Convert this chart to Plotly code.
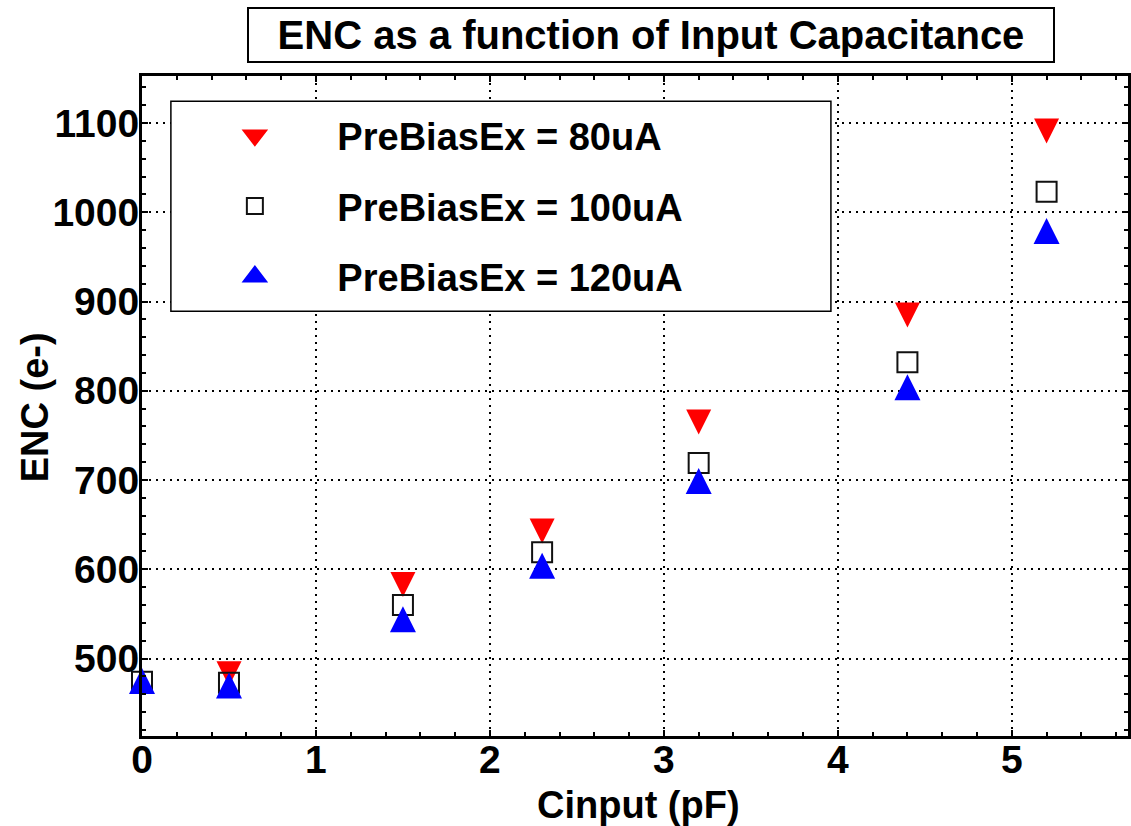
import plotly.graph_objects as go

# ---- data ----
cinput_pf = [0, 0.5, 1.5, 2.3, 3.2, 4.4, 5.2]
enc_80ua = [None, 483, 583, 643, 765, 885, 1091]
enc_100ua = [474, 473, 560, 619, 719, 832, 1023]
enc_120ua = [475, 470, 544, 604, 699, 804, 979]

series_names = ["PreBiasEx = 80uA", "PreBiasEx = 100uA", "PreBiasEx = 120uA"]
series_colors = ["#ff0000", "#111111", "#0000ff"]
chart_title = "ENC as a function of Input Capacitance"
x_title = "Cinput (pF)"
y_title = "ENC (e-)"

FONT = "Liberation Sans, Arial, Helvetica, sans-serif"
FS = 39

fig = go.Figure()

# data markers
fig.add_trace(go.Scatter(
    x=cinput_pf, y=enc_80ua, mode="markers", name=series_names[0],
    showlegend=False, cliponaxis=False,
    marker=dict(symbol="arrow-down", size=25, standoff=12.5, color=series_colors[0],
                line=dict(width=0)),
))
fig.add_trace(go.Scatter(
    x=cinput_pf, y=enc_100ua, mode="markers", name=series_names[1],
    showlegend=False, cliponaxis=False,
    marker=dict(symbol="square-open", size=20, color=series_colors[1],
                line=dict(width=2, color=series_colors[1])),
))
fig.add_trace(go.Scatter(
    x=cinput_pf, y=enc_120ua, mode="markers", name=series_names[2],
    showlegend=False, cliponaxis=False,
    marker=dict(symbol="arrow-down", angle=180, size=26, standoff=13, color=series_colors[2],
                line=dict(width=0)),
))

# legend entries (no data of their own)
legend_symbols = ["triangle-down", "square-open", "triangle-up"]
legend_linew = [4, 2, 4]
for i in range(3):
    fig.add_trace(go.Scatter(
        x=[None], y=[None], mode="markers", name=series_names[i],
        legendgroup="g%d" % i, showlegend=True,
        marker=dict(symbol=legend_symbols[i], size=16, color=series_colors[i],
                    line=dict(width=legend_linew[i], color=series_colors[i])),
    ))

axis_common = dict(
    showline=True, linecolor="black", linewidth=3, mirror="ticks",
    ticks="inside", ticklen=6, tickwidth=2, tickcolor="black",
    showgrid=True, gridcolor="black", gridwidth=2, griddash="2px,5px",
    zeroline=False,
    tickfont=dict(family=FONT, size=FS, color="black", weight="bold"),
)

fig.update_xaxes(range=[0, 5.668], tick0=0, dtick=1,
                 minor=dict(dtick=0.2, ticks="inside", ticklen=4, tickwidth=2,
                            tickcolor="black", showgrid=False),
                 ticklabelstandoff=-13,
                 **axis_common)
fig.update_yaxes(range=[413.3, 1152.6], tick0=0, dtick=100,
                 minor=dict(dtick=20, ticks="inside", ticklen=4, tickwidth=2,
                            tickcolor="black", showgrid=False),
                 ticklabelstandoff=-8,
                 **axis_common)

# legend frame
fig.add_shape(type="rect", xref="paper", yref="paper",
              x0=0.0293, x1=0.6987, y0=0.6435, y1=0.9617,
              line=dict(color="black", width=1.5), fillcolor="white", layer="above")

annots = [
    dict(text="<b>" + chart_title + "</b>", xref="paper", yref="paper",
         x=0.5167, y=1.0624, xanchor="center", yanchor="middle", showarrow=False,
         width=804, height=52, bordercolor="black", borderwidth=2, borderpad=0,
         bgcolor="white", font=dict(family=FONT, size=40, color="black")),
    dict(text="<b>" + x_title + "</b>", xref="paper", yref="paper",
         x=0.5035, y=-0.104, xanchor="center", yanchor="middle", showarrow=False,
         font=dict(family=FONT, size=38, color="black")),
    dict(text="<b>" + y_title + "</b>", xref="paper", yref="paper",
         x=-0.1082, y=0.4985, xanchor="center", yanchor="middle", showarrow=False,
         textangle=-90, font=dict(family=FONT, size=38, color="black")),
]
fig.update_layout(annotations=annots)

fig.update_layout(
    width=1131, height=826,
    margin=dict(l=142, r=0, t=76, b=90),
    paper_bgcolor="white", plot_bgcolor="white",
    showlegend=True,
    legend=dict(x=0.0308, y=0.957, xanchor="left", yanchor="top",
                bgcolor="rgba(0,0,0,0)", borderwidth=0,
                itemwidth=155, tracegroupgap=18,
                font=dict(family=FONT, size=38, color="black", weight="bold")),
)

fig.write_html("out.html")
